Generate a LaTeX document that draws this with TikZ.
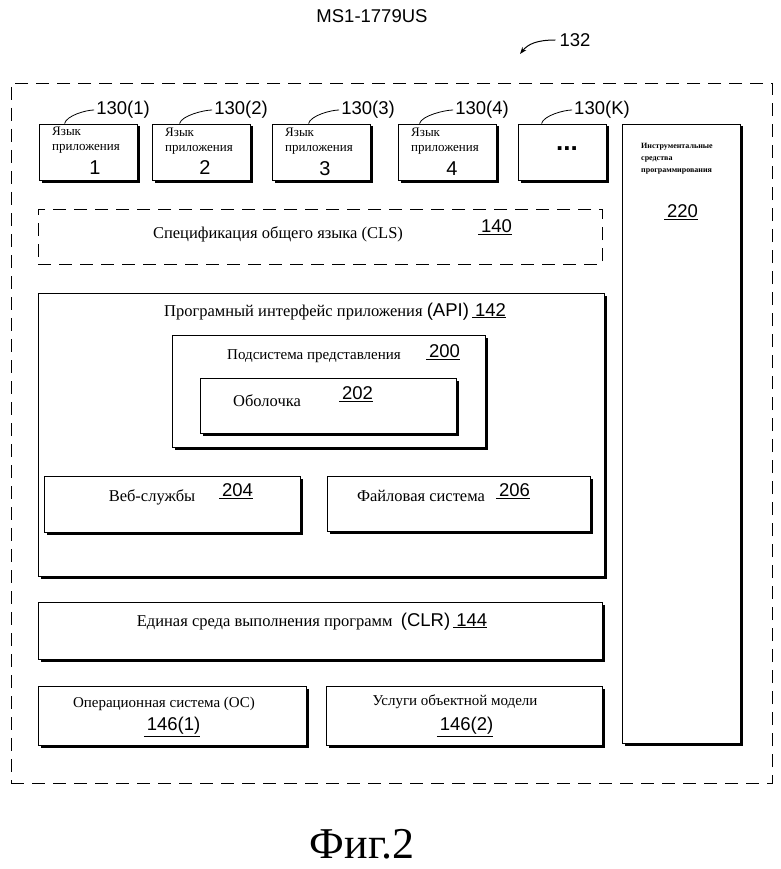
\documentclass[tikz,border=0pt]{standalone}
\usepackage{fontspec}
\setmainfont{Liberation Serif}
\newfontfamily\arial{Liberation Sans}
\usetikzlibrary{shadows,arrows.meta}
\newcommand{\ul}[1]{\underline{\hspace{3pt}#1}}
\begin{document}
\begin{tikzpicture}[x=1pt,y=-1pt,
  sbox/.style={draw, line width=0.9pt, fill=white, rectangle, inner sep=0pt,
    drop shadow={shadow xshift=2.5pt, shadow yshift=-2.5pt, opacity=1, fill=black}},
  dbox/.style={draw, dash pattern=on 13pt off 8pt, line width=0.9pt, rectangle, inner sep=0pt},
  rt/.style={font=\fontsize{16.5}{19}\selectfont, inner sep=0pt},
  rs/.style={font=\fontsize{15}{18}\selectfont, inner sep=0pt},
  st/.style={font=\fontsize{13}{15}\selectfont, inner sep=0pt, align=left},
  ar/.style={font=\arial\fontsize{18.5}{21}\selectfont, inner sep=0pt},
  num/.style={font=\arial\fontsize{20}{22}\selectfont, inner sep=0pt},
  lead/.style={line width=0.8pt}
]
\useasboundingbox (0,0) rectangle (780,869);

% header
\node[ar] (ms) at (372,16) {MS1-1779US};
\node[ar] (l132) at (575,40) {132};
\coordinate (a132) at (520,54);
\draw[line width=1pt,-{Stealth[length=7pt,width=5pt]}] (l132.west)+(-4,0) .. controls (537,40) and (528,44) .. (a132);

% outer dashed
\node[dbox, minimum width=761pt, minimum height=700pt] (outer) at (391.5,433) {};

% application language boxes
\node[sbox, minimum width=98pt, minimum height=56pt] (app1) at (88,152) {};
\node[sbox, minimum width=98pt, minimum height=56pt] (app2) at (201,152) {};
\node[sbox, minimum width=98pt, minimum height=56pt] (app3) at (321,152) {};
\node[sbox, minimum width=98pt, minimum height=56pt] (app4) at (447,152) {};
\node[sbox, minimum width=88pt, minimum height=56pt] (appK) at (562,152) {};

\node[st, anchor=north west] (t1) at (52,127) {Язык\\приложения};
\node[st, anchor=north west] (t2) at (165,128) {Язык\\приложения};
\node[st, anchor=north west] (t3) at (285,128) {Язык\\приложения};
\node[st, anchor=north west] (t4) at (411,128) {Язык\\приложения};
\node[num] (n1) at (95,168) {1};
\node[num] (n2) at (205,168) {2};
\node[num] (n3) at (325,169) {3};
\node[num] (n4) at (452,169) {4};
\node[inner sep=0pt, font=\arial\bfseries\fontsize{26}{28}\selectfont] (dots) at (567,149) {...};

\node[ar] (l1) at (123,110) {130(1)};
\node[ar] (l2) at (241,110) {130(2)};
\node[ar] (l3) at (368,110) {130(3)};
\node[ar] (l4) at (482,110) {130(4)};
\node[ar] (lK) at (602,110) {130(K)};
\draw[lead] ([xshift=26pt]app1.north west) .. controls +(2,-8) and +(-8,0) .. ([xshift=-2pt]l1.west);
\draw[lead] ([xshift=28pt]app2.north west) .. controls +(2,-8) and +(-8,0) .. ([xshift=-2pt]l2.west);
\draw[lead] ([xshift=37pt]app3.north west) .. controls +(2,-8) and +(-8,0) .. ([xshift=-2pt]l3.west);
\draw[lead] ([xshift=22pt]app4.north west) .. controls +(2,-8) and +(-8,0) .. ([xshift=-2pt]l4.west);
\draw[lead] ([xshift=24pt]appK.north west) .. controls +(2,-8) and +(-8,0) .. ([xshift=-2pt]lK.west);

% tools
\node[sbox, minimum width=118pt, minimum height=619pt] (tools) at (681,433.5) {};
\node[inner sep=0pt, anchor=north west, align=left, font=\fontsize{8}{12}\selectfont\bfseries] (tt) at (641,143) {Инструментальные\\средства\\программирования};
\node[ar] (l220) at (681,212) {\ul{220}};

% CLS
\node[dbox, minimum width=564pt, minimum height=55pt] (cls) at (320,236.5) {};
\node[rt] (tcls) at (278,234) {Спецификация общего языка (CLS)};
\node[ar] (l140) at (495,227) {\ul{140}};

% API
\node[sbox, minimum width=566pt, minimum height=283pt] (api) at (321,434.5) {};
\node[rt, anchor=base] (tapi) at (335,316) {Програмный интерфейс приложения {\arial\fontsize{18.5}{21}\selectfont(API)\,\ul{142}}};

\node[sbox, minimum width=313pt, minimum height=112pt] (pres) at (328.5,391) {};
\node[rs] (tpres) at (314,356) {Подсистема представления};
\node[ar] (l200) at (443,352) {\ul{200}};

\node[sbox, minimum width=256pt, minimum height=55pt] (shell) at (328,405.5) {};
\node[rt] (tshell) at (267,401) {Оболочка};
\node[ar] (l202) at (356,394) {\ul{202}};

\node[sbox, minimum width=256pt, minimum height=56pt] (web) at (172,504) {};
\node[rt] (tweb) at (152,497) {Веб-службы};
\node[ar] (l204) at (236,491) {\ul{204}};

\node[sbox, minimum width=263pt, minimum height=55pt] (fs) at (458.5,503.5) {};
\node[rt] (tfs) at (421,496) {Файловая система};
\node[ar] (l206) at (513,491) {\ul{206}};

% CLR
\node[sbox, minimum width=564pt, minimum height=57pt] (clr) at (320,630.5) {};
\node[rt, anchor=base] (tclr) at (312,626) {Единая среда выполнения программ\ \ {\arial\fontsize{18.5}{21}\selectfont(CLR)\,\ul{144}}};

% OS / object model
\node[sbox, minimum width=268pt, minimum height=59pt] (os) at (172,715.5) {};
\node[rs] (tos) at (164,704) {Операционная система (ОС)};
\node[ar] (l1461) at (172,727) {\ul{146(1)}};

\node[sbox, minimum width=276pt, minimum height=59pt] (om) at (464,715.5) {};
\node[rs] (tom) at (455,702) {Услуги объектной модели};
\node[ar] (l1462) at (465,727) {\ul{146(2)}};

% caption
\node[inner sep=0pt, anchor=base, font=\fontsize{44}{48}\selectfont] (fig) at (362,858) {Фиг.2};
\end{tikzpicture}
\end{document}
